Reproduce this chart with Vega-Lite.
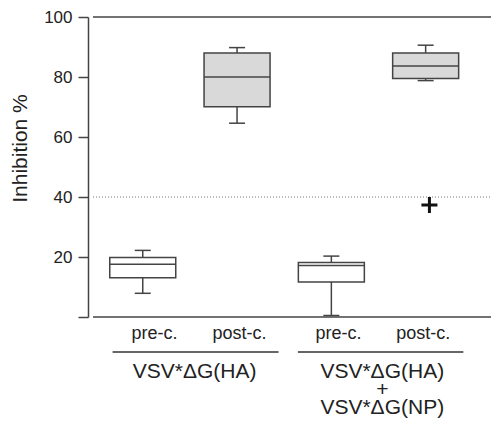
{
  "$schema": "https://vega.github.io/schema/vega-lite/v6.json",
  "autosize": {"type": "none"},
  "padding": {"left": 88, "top": 17, "right": 0, "bottom": 106},
  "width": 408,
  "height": 300,
  "background": "white",
  "config": {"font": "Liberation Sans", "view": {"stroke": null}},
  "datasets": {
    "boxes": [
      {"cond": "pre-c.", "x": 1, "lo": 7.9, "q1": 13.1, "med": 17.6, "q3": 19.8, "hi": 22.2},
      {"cond": "post-c.", "x": 2, "lo": 64.6, "q1": 70.1, "med": 80.0, "q3": 88.0, "hi": 89.8},
      {"cond": "pre-c.", "x": 3, "lo": 0.5, "q1": 11.7, "med": 17.2, "q3": 18.2, "hi": 20.3},
      {"cond": "post-c.", "x": 4, "lo": 78.8, "q1": 79.5, "med": 83.7, "q3": 88.0, "hi": 90.6}
    ],
    "outliers": [
      {"cond": "post-c.", "x": 4.04, "y": 37.3}
    ],
    "groups": [
      {"group": "VSV*ΔG(HA)", "center": 1.55, "from": 0.68, "to": 2.44},
      {"group": "VSV*ΔG(HA)\n+\nVSV*ΔG(NP)", "center": 3.54, "from": 2.645, "to": 4.40}
    ],
    "lines": [
      {"kind": "frame", "y": 0, "dash": "solid"},
      {"kind": "frame", "y": 100, "dash": "solid"},
      {"kind": "threshold", "y": 40, "dash": "dotted"}
    ]
  },
  "layer": [
    {
      "data": {"name": "lines"},
      "mark": {"type": "rule"},
      "encoding": {
        "x": {"datum": 0.4724, "type": "quantitative", "scale": {"domain": [0.4724, 4.693], "nice": false, "zero": false},
          "axis": {"values": [1.12, 2.02, 3.07, 3.97], "labelExpr": "(datum.value < 1.5 || (datum.value > 2.5 && datum.value < 3.5)) ? 'pre-c.' : 'post-c.'", "domain": false, "ticks": false, "grid": false, "title": null, "labelFontSize": 18, "labelColor": "#222", "labelPadding": 7, "labelBaseline": "top"}},
        "x2": {"datum": 4.693},
        "y": {"field": "y", "type": "quantitative", "scale": {"domain": [0, 100], "nice": false},
          "axis": {"values": [0, 20, 40, 60, 80, 100], "labelExpr": "datum.value == 0 ? '' : datum.label", "grid": false, "tickSize": 10, "tickColor": "#444", "tickWidth": 1.5, "domainColor": "#444", "domainWidth": 1.5, "labelFontSize": 17, "labelColor": "#222", "labelPadding": 6, "title": "Inhibition %", "titleFontSize": 21, "titleFontWeight": "normal", "titleColor": "#222", "titleAngle": 270, "titleAlign": "center", "titleBaseline": "middle", "titleX": -68, "titleY": 131}},
        "strokeDash": {"field": "dash", "type": "nominal", "scale": {"domain": ["solid", "dotted"], "range": [[1, 0], [1, 2]]}, "legend": null},
        "color": {"field": "dash", "type": "nominal", "scale": {"domain": ["solid", "dotted"], "range": ["#444", "#777"]}, "legend": null},
        "strokeWidth": {"field": "dash", "type": "nominal", "scale": {"domain": ["solid", "dotted"], "range": [1.5, 1]}, "legend": null}
      }
    },
    {
      "data": {"name": "boxes"},
      "mark": {"type": "rule", "color": "#444", "strokeWidth": 1.5},
      "encoding": {
        "x": {"field": "x", "type": "quantitative"},
        "y": {"field": "lo", "type": "quantitative"},
        "y2": {"field": "hi"}
      }
    },
    {
      "data": {"name": "boxes"},
      "mark": {"type": "bar", "size": 66, "stroke": "#444", "strokeWidth": 1.5},
      "encoding": {
        "x": {"field": "x", "type": "quantitative"},
        "y": {"field": "q1", "type": "quantitative"},
        "y2": {"field": "q3"},
        "fill": {"field": "cond", "type": "nominal", "scale": {"domain": ["pre-c.", "post-c."], "range": ["#ffffff", "#d9d9d9"]}, "legend": null}
      }
    },
    {
      "data": {"name": "boxes"},
      "mark": {"type": "tick", "orient": "horizontal", "size": 66, "thickness": 1.5, "color": "#444", "opacity": 1},
      "encoding": {
        "x": {"field": "x", "type": "quantitative"},
        "y": {"field": "med", "type": "quantitative"}
      }
    },
    {
      "data": {"name": "boxes"},
      "mark": {"type": "tick", "orient": "horizontal", "size": 16, "thickness": 1.5, "color": "#444", "opacity": 1},
      "encoding": {
        "x": {"field": "x", "type": "quantitative"},
        "y": {"field": "lo", "type": "quantitative"}
      }
    },
    {
      "data": {"name": "boxes"},
      "mark": {"type": "tick", "orient": "horizontal", "size": 16, "thickness": 1.5, "color": "#444", "opacity": 1},
      "encoding": {
        "x": {"field": "x", "type": "quantitative"},
        "y": {"field": "hi", "type": "quantitative"}
      }
    },
    {
      "data": {"name": "outliers"},
      "mark": {"type": "point", "shape": "M-1,0L1,0M0,-1L0,1", "size": 256, "filled": false, "stroke": "#111", "strokeWidth": 3, "opacity": 1},
      "encoding": {
        "x": {"field": "x", "type": "quantitative"},
        "y": {"field": "y", "type": "quantitative"}
      }
    },
    {
      "data": {"name": "groups"},
      "mark": {"type": "rule", "color": "#333", "strokeWidth": 1.5},
      "encoding": {
        "x": {"field": "from", "type": "quantitative"},
        "x2": {"field": "to"},
        "y": {"datum": -11.67, "type": "quantitative"}
      }
    },
    {
      "data": {"name": "groups"},
      "mark": {"type": "text", "fontSize": 21, "color": "#222", "align": "center", "baseline": "top", "lineBreak": "\n", "lineHeight": 18},
      "encoding": {
        "x": {"field": "center", "type": "quantitative"},
        "y": {"datum": -14.67, "type": "quantitative"},
        "text": {"field": "group"}
      }
    }
  ]
}
